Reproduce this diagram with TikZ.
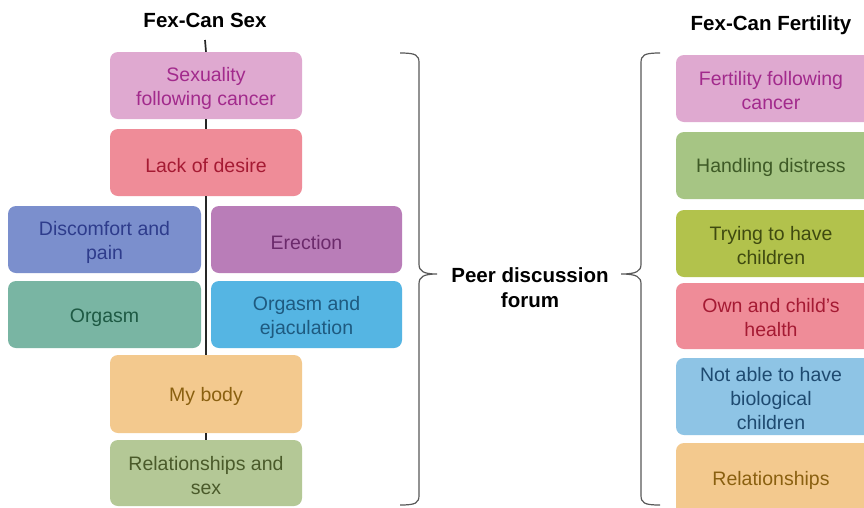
\documentclass[tikz,border=0pt]{standalone}
\usepackage{fontspec}
\setmainfont{Liberation Sans}
\begin{document}
\begin{tikzpicture}[x=1pt,y=-1pt,
  box/.style={rounded corners=8pt, inner sep=0pt},
  words/.style={inner sep=0pt, align=center,
    font=\fontsize{19.5}{24}\selectfont},
  title/.style={font=\fontsize{20.5}{25}\selectfont\bfseries, align=center},
  stem/.style={draw=black!85, line width=1.7pt},
  bracket/.style={draw=black!65, line width=1.2pt},
  lw/.style={minimum width=192, minimum height=67},
  rw/.style={minimum width=196, minimum height=67}]
\useasboundingbox (0,0) rectangle (864,507);
\clip (0,0) rectangle (864,507);
\fill[white] (0,0) rectangle (864,507);

% colour scheme
\definecolor{pinkF}{HTML}{DFA9D0}\definecolor{pinkT}{HTML}{A22A8C}
\definecolor{redF}{HTML}{EF8C98}\definecolor{redT}{HTML}{A51A33}
\definecolor{blueF}{HTML}{7B8FCD}\definecolor{blueT}{HTML}{2E3C8C}
\definecolor{violetF}{HTML}{B97DB8}\definecolor{violetT}{HTML}{6B2A6B}
\definecolor{tealF}{HTML}{79B5A3}\definecolor{tealT}{HTML}{1E5A44}
\definecolor{skyF}{HTML}{55B5E3}\definecolor{skyT}{HTML}{1E5A80}
\definecolor{sandF}{HTML}{F3C98E}\definecolor{sandT}{HTML}{8A6010}
\definecolor{sageF}{HTML}{B4C896}\definecolor{sageT}{HTML}{4A5A2A}
\definecolor{greenF}{HTML}{A6C584}\definecolor{greenT}{HTML}{3E5A26}
\definecolor{oliveF}{HTML}{B2C24C}\definecolor{oliveT}{HTML}{3F4A10}
\definecolor{paleF}{HTML}{8EC4E5}\definecolor{paleT}{HTML}{1E4A70}

% Fex-Can Sex column: boxes
\node[title] (sextitle) at (205,20) {Fex-Can Sex};
\coordinate (stemtop) at (205,40);
\node[box, lw, fill=pinkF] (sexcancer) at (206,85.5) {};
\node[box, lw, fill=redF] (desire) at (206,162.5) {};
\node[box, minimum width=193, minimum height=67, fill=blueF] (pain) at (104.5,239.5) {};
\node[box, minimum width=191, minimum height=67, fill=violetF] (erection) at (306.5,239.5) {};
\node[box, minimum width=193, minimum height=67, fill=tealF] (orgasm) at (104.5,314.5) {};
\node[box, minimum width=191, minimum height=67, fill=skyF] (ejac) at (306.5,314.5) {};
\node[box, minimum width=192, minimum height=78, fill=sandF] (body) at (206,394) {};
\node[box, minimum width=192, minimum height=66, fill=sageF] (relsex) at (206,473) {};

% stem linking the column
\draw[stem] (stemtop) -- (sexcancer.north);
\draw[stem] (sexcancer.south) -- (desire.north);
\draw[stem] (desire.south) -- (body.north);
\draw[stem] (body.south) -- (relsex.north);

% Fex-Can Sex column: labels
\node[words, text=pinkT] (sexcancerT) at ([yshift=-3pt]sexcancer.center) {Sexuality\\following cancer};
\node[words, text=redT] (desireT) at ([yshift=-3pt]desire.center) {Lack of desire};
\node[words, text=blueT] (painT) at ([yshift=-3pt]pain.center) {Discomfort and\\pain};
\node[words, text=violetT] (erectionT) at ([yshift=-3pt]erection.center) {Erection};
\node[words, text=tealT] (orgasmT) at ([yshift=-3pt]orgasm.center) {Orgasm};
\node[words, text=skyT] (ejacT) at ([yshift=-3pt]ejac.center) {Orgasm and\\ejaculation};
\node[words, text=sandT] (bodyT) at ([yshift=-2pt]body.center) {My body};
\node[words, text=sageT] (relsexT) at ([yshift=-3pt]relsex.center) {Relationships and\\sex};

% peer forum with its two braces
\node[title] (forum) at (530,288) {Peer discussion\\forum};
\coordinate (ltip) at (437,274);
\coordinate (rtip) at (621,274);
\draw[bracket] (400,53) .. controls (416,53) and (419,55) .. (419,63) -- (419,264)
  .. controls (419,271) and (423,274) .. (ltip)
  .. controls (423,274) and (419,277) .. (419,284) -- (419,495)
  .. controls (419,503) and (416,505) .. (400,505);
\draw[bracket] (660,53) .. controls (644,53) and (641,55) .. (641,63) -- (641,264)
  .. controls (641,271) and (637,274) .. (rtip)
  .. controls (637,274) and (641,277) .. (641,284) -- (641,495)
  .. controls (641,503) and (644,505) .. (660,505);

% Fex-Can Fertility column
\node[title] (fertitle) at (771,25) {Fex-Can Fertility};
\node[box, rw, fill=pinkF] (fercancer) at (774,88.5) {};
\node[box, rw, fill=greenF] (distress) at (774,165.5) {};
\node[box, rw, fill=oliveF] (trying) at (774,243.5) {};
\node[box, minimum width=196, minimum height=66, fill=redF] (health) at (774,316) {};
\node[box, minimum width=196, minimum height=77, fill=paleF] (notable) at (774,396.5) {};
\node[box, minimum width=196, minimum height=74, fill=sandF] (rels) at (774,480) {};

\node[words, text=pinkT] (fercancerT) at ([xshift=-3pt,yshift=-2pt]fercancer.center) {Fertility following\\cancer};
\node[words, text=greenT] (distressT) at ([xshift=-3pt,yshift=-2pt]distress.center) {Handling distress};
\node[words, text=oliveT] (tryingT) at ([xshift=-3pt,yshift=-2pt]trying.center) {Trying to have\\children};
\node[words, text=redT] (healthT) at ([xshift=-3pt,yshift=-2pt]health.center) {Own and child's\\health};
\node[words, text=paleT] (notableT) at ([xshift=-3pt,yshift=-2pt]notable.center) {Not able to have\\biological\\children};
\node[words, text=sandT] (relsT) at ([xshift=-3pt]rels.center) {Relationships};
\end{tikzpicture}
\end{document}
